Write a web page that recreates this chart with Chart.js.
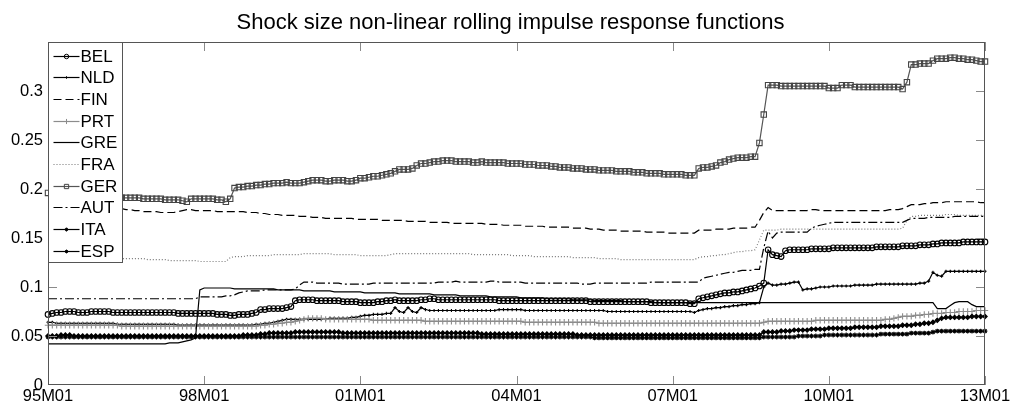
<!DOCTYPE html>
<html>
<head>
<meta charset="utf-8">
<title>Shock size non-linear rolling impulse response functions</title>
<script src="https://cdn.jsdelivr.net/npm/chart.js@4.4.1/dist/chart.umd.min.js"></script>
<style>
    html, body { margin: 0; padding: 0; background: #fff; }
    #myChart { display: block; }
</style>
</head>
<body>
<canvas id="myChart" width="1016" height="412"></canvas>
<script>
// Monthly values, in thousandths (0.193 -> 193).
// One row per year, 95M01 ... 12M12, last row is 13M01.
const bel = [
    72, 73, 74, 74, 75, 75, 75, 74, 74, 74, 75, 75,
    75, 75, 75, 74, 74, 74, 74, 74, 74, 74, 74, 74,
    74, 74, 74, 74, 74, 74, 73, 73, 73, 73, 73, 73,
    73, 73, 73, 72, 72, 72, 71, 71, 72, 72, 72, 73,
    74, 77, 77, 78, 78, 78, 78, 79, 80, 86, 87, 87,
    87, 87, 86, 86, 86, 86, 86, 86, 85, 85, 85, 85,
    84, 84, 84, 84, 85, 85, 86, 86, 87, 86, 86, 86,
    86, 86, 87, 87, 88, 88, 87, 87, 87, 87, 87, 87,
    87, 87, 87, 87, 87, 87, 87, 87, 86, 86, 86, 86,
    86, 86, 86, 86, 86, 86, 86, 86, 86, 86, 86, 86,
    86, 86, 86, 86, 86, 85, 85, 85, 85, 85, 85, 85,
    85, 85, 85, 85, 85, 85, 85, 84, 84, 84, 84, 84,
    84, 84, 84, 84, 83, 83, 88, 89, 90, 91, 92, 93,
    94, 94, 95, 95, 96, 97, 98, 99, 101, 104, 138, 133,
    132, 131, 137, 138, 138, 138, 138, 138, 139, 139, 139, 139,
    139, 140, 140, 140, 140, 140, 140, 140, 140, 140, 140, 141,
    141, 141, 141, 141, 141, 142, 142, 142, 142, 143, 143, 143,
    144, 144, 145, 145, 145, 145, 145, 146, 146, 146, 146, 146,
    146,
];
const nld = [
    64, 64, 63, 63, 63, 63, 63, 63, 63, 63, 63, 63,
    63, 63, 63, 63, 62, 62, 62, 62, 62, 62, 62, 62,
    62, 62, 62, 62, 62, 62, 61, 61, 61, 61, 61, 61,
    61, 61, 61, 61, 61, 61, 61, 61, 61, 61, 61, 61,
    62, 62, 63, 63, 64, 65, 66, 67, 67, 67, 67, 67,
    67, 67, 67, 67, 67, 68, 68, 68, 68, 68, 69, 69,
    70, 71, 71, 72, 72, 72, 73, 73, 79, 75, 74, 79,
    75, 74, 79, 77, 76, 76, 76, 76, 76, 76, 76, 76,
    76, 76, 76, 76, 76, 76, 76, 76, 77, 77, 77, 77,
    77, 77, 76, 76, 76, 76, 76, 76, 76, 76, 76, 76,
    76, 76, 76, 76, 76, 76, 76, 76, 76, 75, 75, 75,
    75, 75, 75, 75, 75, 75, 75, 75, 75, 75, 75, 75,
    75, 75, 75, 75, 75, 74, 76, 77, 78, 78, 79, 79,
    80, 80, 81, 81, 82, 82, 83, 83, 84, 100, 104, 102,
    102, 103, 103, 104, 105, 105, 97, 98, 98, 99, 100, 100,
    100, 101, 101, 101, 101, 101, 102, 102, 102, 102, 102, 103,
    103, 103, 103, 103, 103, 103, 103, 103, 103, 104, 104, 106,
    115, 112, 111, 116, 116, 116, 116, 116, 116, 116, 116, 116,
    116,
];
const fin = [
    182, 182, 182, 181, 181, 181, 181, 181, 181, 181, 181, 180,
    180, 180, 180, 180, 180, 180, 179, 179, 178, 178, 177, 177,
    177, 177, 176, 176, 176, 176, 177, 178, 179, 179, 178, 178,
    178, 178, 178, 177, 177, 177, 177, 177, 177, 177, 176, 176,
    176, 175, 175, 174, 174, 174, 173, 173, 173, 173, 172, 172,
    172, 171, 171, 171, 170, 170, 170, 170, 170, 170, 170, 169,
    169, 169, 169, 169, 169, 168, 168, 168, 168, 168, 168, 167,
    167, 167, 167, 167, 166, 166, 166, 166, 166, 165, 165, 165,
    165, 165, 165, 165, 165, 164, 164, 164, 164, 163, 163, 163,
    163, 163, 162, 162, 162, 162, 162, 161, 161, 161, 161, 161,
    161, 160, 160, 160, 160, 159, 159, 159, 158, 158, 158, 158,
    157, 157, 157, 157, 157, 157, 156, 156, 156, 156, 156, 155,
    155, 155, 155, 155, 155, 155, 158, 158, 158, 158, 159, 159,
    159, 159, 160, 160, 160, 160, 161, 161, 168, 176, 181, 178,
    178, 178, 178, 178, 178, 178, 178, 178, 179, 179, 178, 178,
    178, 178, 178, 178, 178, 178, 178, 178, 178, 178, 178, 178,
    178, 178, 179, 179, 179, 180, 182, 184, 184, 184, 185, 185,
    186, 186, 186, 187, 187, 187, 187, 187, 187, 187, 187, 186,
    186,
];
const prt = [
    61, 61, 61, 61, 61, 61, 61, 61, 61, 61, 61, 61,
    61, 61, 61, 61, 61, 60, 60, 60, 60, 60, 60, 60,
    60, 60, 60, 60, 60, 60, 60, 60, 60, 60, 60, 60,
    60, 60, 60, 60, 60, 60, 60, 60, 60, 60, 60, 60,
    60, 61, 61, 62, 62, 63, 63, 64, 64, 65, 66, 67,
    68, 68, 68, 68, 67, 67, 67, 67, 67, 67, 67, 67,
    67, 67, 67, 66, 66, 66, 66, 66, 66, 66, 66, 66,
    66, 66, 66, 65, 65, 65, 65, 65, 65, 65, 65, 65,
    65, 65, 65, 65, 65, 65, 65, 65, 65, 65, 65, 65,
    65, 65, 64, 64, 64, 64, 64, 64, 64, 64, 64, 64,
    64, 64, 64, 64, 64, 64, 64, 63, 63, 63, 63, 63,
    63, 63, 63, 63, 63, 63, 63, 63, 63, 63, 63, 63,
    63, 63, 63, 63, 63, 63, 63, 63, 63, 63, 63, 63,
    63, 63, 63, 63, 63, 63, 63, 63, 63, 64, 65, 65,
    65, 65, 65, 65, 65, 65, 65, 65, 65, 66, 66, 66,
    66, 66, 66, 66, 66, 66, 66, 66, 66, 66, 66, 66,
    66, 67, 67, 68, 69, 70, 70, 70, 71, 71, 72, 72,
    73, 73, 73, 74, 74, 74, 75, 75, 75, 75, 76, 76,
    76,
];
const gre = [
    42, 42, 42, 42, 42, 42, 42, 42, 42, 42, 42, 42,
    42, 42, 42, 42, 42, 42, 42, 42, 42, 42, 42, 42,
    42, 42, 42, 42, 43, 43, 43, 44, 45, 46, 48, 97,
    99, 99, 99, 99, 99, 99, 99, 98, 98, 98, 98, 98,
    98, 98, 98, 98, 98, 97, 97, 97, 97, 97, 97, 96,
    96, 96, 96, 96, 96, 96, 95, 95, 95, 95, 95, 95,
    95, 94, 94, 94, 94, 94, 94, 94, 94, 93, 93, 93,
    93, 93, 93, 93, 93, 92, 92, 92, 92, 92, 92, 91,
    91, 91, 91, 91, 91, 91, 90, 90, 90, 90, 90, 90,
    90, 89, 89, 89, 89, 89, 89, 88, 88, 88, 88, 88,
    88, 87, 87, 87, 87, 87, 86, 86, 86, 86, 86, 86,
    86, 85, 85, 85, 85, 85, 85, 85, 84, 84, 84, 84,
    84, 84, 84, 84, 84, 84, 84, 84, 84, 84, 84, 84,
    84, 84, 84, 84, 84, 84, 84, 84, 84, 84, 84, 84,
    84, 84, 84, 84, 84, 84, 84, 84, 84, 84, 84, 84,
    84, 84, 84, 84, 84, 84, 84, 84, 84, 84, 84, 84,
    84, 84, 84, 84, 84, 84, 84, 84, 84, 84, 84, 84,
    84, 78, 78, 78, 81, 84, 85, 85, 85, 82, 80, 80,
    80,
];
const fra = [
    130, 130, 130, 130, 130, 130, 130, 130, 130, 130, 130, 130,
    130, 130, 130, 130, 130, 129, 129, 129, 129, 129, 129, 128,
    128, 128, 128, 128, 127, 127, 127, 127, 127, 127, 127, 126,
    126, 126, 126, 126, 126, 126, 130, 131, 131, 131, 132, 132,
    132, 132, 132, 132, 133, 133, 133, 133, 133, 133, 133, 134,
    134, 134, 134, 134, 134, 134, 133, 133, 133, 133, 133, 133,
    132, 132, 132, 132, 132, 132, 132, 133, 134, 134, 134, 134,
    134, 134, 134, 134, 134, 134, 134, 134, 134, 134, 134, 134,
    134, 134, 133, 133, 133, 133, 133, 133, 133, 133, 133, 132,
    132, 132, 132, 132, 131, 131, 131, 131, 131, 131, 131, 131,
    131, 130, 130, 130, 130, 130, 130, 129, 129, 129, 129, 129,
    128, 128, 128, 128, 128, 128, 128, 128, 128, 128, 128, 128,
    128, 128, 128, 128, 128, 128, 130, 131, 131, 132, 132, 133,
    133, 134, 135, 136, 136, 137, 137, 138, 148, 158, 158, 158,
    158, 159, 159, 159, 159, 159, 159, 159, 159, 159, 159, 159,
    159, 159, 159, 159, 159, 159, 159, 159, 159, 159, 159, 159,
    159, 159, 159, 159, 159, 160, 168, 172, 172, 173, 173, 173,
    173, 173, 173, 174, 174, 174, 173, 173, 173, 173, 173, 173,
    173,
];
const ger = [
    196, 196, 195, 195, 194, 194, 194, 194, 193, 193, 193, 193,
    192, 192, 192, 192, 192, 191, 191, 191, 191, 191, 190, 190,
    190, 190, 190, 189, 189, 189, 189, 188, 187, 190, 190, 190,
    190, 190, 190, 189, 189, 187, 190, 201, 202, 202, 203, 203,
    204, 204, 205, 205, 206, 206, 206, 207, 206, 206, 206, 207,
    208, 209, 209, 209, 208, 208, 209, 209, 209, 208, 208, 209,
    211, 211, 212, 213, 213, 214, 215, 216, 218, 220, 220, 220,
    221, 224, 226, 226, 227, 228, 228, 229, 229, 229, 228, 228,
    228, 228, 227, 227, 228, 227, 227, 227, 227, 227, 226, 226,
    226, 226, 225, 225, 225, 224, 224, 224, 223, 223, 222, 222,
    222, 221, 221, 221, 220, 220, 220, 219, 219, 219, 219, 218,
    218, 218, 218, 217, 217, 217, 216, 216, 216, 216, 215, 215,
    215, 215, 215, 214, 214, 214, 221, 222, 222, 223, 224, 227,
    228, 230, 231, 232, 232, 232, 233, 233, 247, 276, 306, 306,
    306, 305, 305, 305, 305, 305, 305, 305, 305, 305, 305, 305,
    303, 303, 303, 306, 306, 306, 304, 304, 304, 304, 304, 304,
    304, 304, 304, 304, 304, 302, 309, 327, 327, 328, 328, 328,
    331, 333, 333, 333, 334, 334, 333, 333, 332, 332, 331, 330,
    330,
];
const aut = [
    88, 88, 88, 88, 88, 88, 88, 88, 88, 88, 88, 88,
    88, 88, 88, 88, 88, 88, 88, 88, 88, 88, 88, 88,
    88, 88, 88, 88, 88, 88, 88, 88, 88, 88, 88, 90,
    90, 90, 90, 90, 90, 91, 91, 92, 94, 95, 96, 96,
    96, 96, 97, 97, 97, 97, 97, 97, 97, 98, 102, 105,
    105, 105, 104, 104, 104, 104, 104, 104, 103, 103, 103, 103,
    103, 103, 103, 104, 104, 104, 104, 104, 104, 104, 104, 104,
    104, 104, 104, 104, 104, 104, 105, 105, 105, 105, 106, 105,
    105, 105, 105, 105, 105, 105, 106, 106, 105, 105, 105, 105,
    105, 105, 104, 104, 104, 104, 104, 104, 104, 104, 104, 104,
    104, 104, 104, 103, 103, 103, 104, 104, 104, 104, 104, 104,
    104, 104, 104, 104, 104, 104, 104, 105, 105, 105, 105, 105,
    105, 105, 105, 105, 105, 105, 105, 109, 110, 111, 112, 113,
    114, 115, 115, 116, 117, 117, 117, 118, 118, 140, 157, 150,
    155, 156, 156, 156, 156, 156, 156, 156, 160, 162, 163, 164,
    165, 166, 166, 166, 166, 166, 166, 166, 166, 166, 166, 166,
    166, 166, 166, 166, 166, 166, 168, 170, 170, 170, 170, 171,
    171, 171, 171, 171, 171, 172, 172, 172, 172, 172, 172, 172,
    172,
];
const ita = [
    50, 50, 50, 51, 51, 51, 50, 50, 50, 50, 50, 50,
    50, 50, 50, 50, 50, 50, 50, 50, 50, 50, 50, 50,
    50, 50, 50, 50, 50, 50, 50, 50, 50, 50, 50, 50,
    50, 50, 50, 50, 50, 50, 50, 50, 50, 51, 51, 51,
    51, 52, 52, 53, 53, 53, 53, 53, 53, 54, 54, 54,
    54, 54, 54, 54, 54, 54, 54, 54, 53, 53, 53, 53,
    53, 53, 53, 53, 53, 53, 53, 53, 53, 53, 53, 53,
    53, 53, 53, 53, 53, 53, 53, 53, 53, 53, 53, 53,
    53, 53, 53, 53, 52, 52, 52, 52, 52, 52, 52, 52,
    52, 52, 52, 52, 52, 52, 52, 52, 52, 52, 52, 52,
    52, 52, 51, 51, 51, 51, 51, 51, 51, 51, 51, 51,
    51, 51, 51, 51, 51, 51, 51, 51, 51, 51, 51, 51,
    51, 51, 51, 51, 51, 51, 51, 51, 51, 51, 51, 51,
    51, 51, 51, 51, 51, 51, 51, 51, 51, 54, 54, 54,
    54, 55, 55, 55, 56, 56, 56, 56, 57, 57, 57, 57,
    58, 58, 58, 58, 58, 58, 59, 59, 59, 59, 59, 59,
    60, 60, 60, 60, 60, 61, 61, 61, 62, 62, 63, 63,
    64, 66, 68, 69, 69, 69, 69, 69, 69, 70, 70, 70,
    70,
];
const esp = [
    49, 49, 49, 49, 49, 49, 49, 49, 49, 49, 49, 49,
    49, 49, 49, 49, 49, 49, 49, 49, 49, 49, 49, 49,
    49, 49, 49, 49, 49, 49, 49, 49, 49, 49, 49, 49,
    49, 49, 49, 49, 49, 49, 49, 49, 49, 49, 49, 49,
    49, 49, 49, 49, 49, 49, 49, 49, 49, 49, 49, 49,
    49, 49, 49, 49, 49, 49, 49, 49, 49, 49, 49, 49,
    49, 49, 49, 49, 49, 49, 49, 49, 49, 49, 49, 49,
    49, 49, 49, 49, 49, 49, 49, 49, 49, 49, 49, 49,
    49, 49, 49, 49, 49, 49, 49, 49, 49, 49, 49, 49,
    49, 49, 49, 49, 49, 49, 49, 49, 49, 49, 49, 49,
    49, 49, 49, 49, 49, 49, 48, 48, 48, 48, 48, 48,
    48, 48, 48, 48, 48, 48, 48, 48, 48, 48, 48, 48,
    48, 48, 48, 48, 48, 48, 48, 48, 48, 48, 48, 48,
    48, 48, 48, 48, 48, 48, 48, 48, 48, 49, 49, 49,
    49, 49, 49, 49, 49, 50, 50, 50, 50, 50, 50, 51,
    51, 51, 51, 51, 51, 51, 51, 51, 51, 51, 51, 51,
    52, 52, 52, 52, 52, 52, 52, 53, 53, 53, 53, 53,
    54, 55, 55, 55, 55, 55, 55, 55, 55, 55, 55, 55,
    55,
];

const seriesNames = ["BEL", "NLD", "FIN", "PRT", "GRE", "FRA", "GER", "AUT", "ITA", "ESP"];
const seriesValues = [bel, nld, fin, prt, gre, fra, ger, aut, ita, esp];

const xTickLabels = ["95M01", "98M01", "01M01", "04M01", "07M01", "10M01", "13M01"];
const yTickValues = [0.05, 0.1, 0.15, 0.2, 0.25, 0.3];
const titleText = "Shock size non-linear rolling impulse response functions";

// month categories 95M01 .. 13M01
const monthLabels = [];
for (let y = 1995; y <= 2013; y++) {
    for (let m = 1; m <= 12; m++) {
        if (y === 2013 && m > 1) break;
        monthLabels.push(String(y % 100).padStart(2, "0") + "M" + String(m).padStart(2, "0"));
    }
}

// matlab-ish line specs
const looks = {
    BEL: { line: "#000", dash: [], marker: "circle", r: 2.8, mColor: "#000", mFill: "rgba(0,0,0,0)" },
    NLD: { line: "#000", dash: [], marker: "cross", r: 1.6, mColor: "#000", mFill: "#000" },
    FIN: { line: "#000", dash: [8, 4], marker: null },
    PRT: { line: "#8c8c8c", dash: [], marker: "cross", r: 3.2, mColor: "#8c8c8c", mFill: "#8c8c8c" },
    GRE: { line: "#000", dash: [], marker: null },
    FRA: { line: "#777", dash: [1, 2], marker: null },
    GER: { line: "#555", dash: [], marker: "rect", r: 3.8, mColor: "#444", mFill: "rgba(0,0,0,0)" },
    AUT: { line: "#000", dash: [9, 3, 2, 3], marker: null },
    ITA: { line: "#000", dash: [], marker: "rectRot", r: 2.2, mColor: "#000", mFill: "#000" },
    ESP: { line: "#000", dash: [], marker: "star", r: 2.4, mColor: "#000", mFill: "#000" },
};

const fontFamily = '"Liberation Sans", Arial, Helvetica, sans-serif';
Chart.defaults.font.family = fontFamily;
Chart.defaults.color = "#000";

const datasets = seriesNames.map((name, i) => {
    const s = looks[name];
    return {
        label: name,
        data: seriesValues[i].map((v) => v / 1000),
        borderColor: s.line,
        borderWidth: 1.2,
        borderDash: s.dash,
        pointStyle: s.marker || "circle",
        pointRadius: s.marker ? s.r : 0,
        pointBorderColor: s.mColor || s.line,
        pointBackgroundColor: s.mFill || s.line,
        pointBorderWidth: 1.1,
        tension: 0,
        clip: false,
        order: seriesNames.length - i, // later series on top, like plot()
    };
});

// frame, inward ticks, legend box and title
const matlabAxes = {
    id: "matlabAxes",
    afterDatasetsDraw(chart) {
        const { ctx, chartArea: area, scales } = chart;
        const tickLen = 9;
        ctx.save();

        ctx.strokeStyle = "#8a8a8a";
        ctx.lineWidth = 1;
        ctx.setLineDash([]);
        ctx.beginPath();
        xTickLabels.forEach((lbl) => {
            const px = Math.round(scales.x.getPixelForValue(monthLabels.indexOf(lbl))) + 0.5;
            ctx.moveTo(px, area.bottom);
            ctx.lineTo(px, area.bottom - tickLen);
            ctx.moveTo(px, area.top);
            ctx.lineTo(px, area.top + tickLen);
        });
        yTickValues.forEach((v) => {
            const py = Math.round(scales.y.getPixelForValue(v)) + 0.5;
            ctx.moveTo(area.left, py);
            ctx.lineTo(area.left + tickLen, py);
            ctx.moveTo(area.right, py);
            ctx.lineTo(area.right - tickLen, py);
        });
        ctx.stroke();

        // legend (north west, inside the axes)
        const lx = Math.round(area.left) + 0.5;
        const ly = Math.round(area.top) + 0.5;
        const lw = 74;
        const rowH = 21.7;
        const lh = 220;
        ctx.fillStyle = "#fff";
        ctx.fillRect(lx, ly, lw, lh);
        ctx.strokeStyle = "#555";
        ctx.strokeRect(lx, ly, lw, lh);
        ctx.font = "17px " + fontFamily;
        ctx.textBaseline = "middle";
        ctx.textAlign = "left";
        seriesNames.forEach((name, i) => {
            const s = looks[name];
            const cy = Math.round(ly + 13 + rowH * i) + 0.5;
            ctx.strokeStyle = s.line;
            ctx.lineWidth = 1.2;
            ctx.setLineDash(s.dash);
            ctx.beginPath();
            ctx.moveTo(lx + 5, cy);
            ctx.lineTo(lx + 31, cy);
            ctx.stroke();
            ctx.setLineDash([]);
            if (s.marker && Chart.helpers && Chart.helpers.drawPoint) {
                ctx.strokeStyle = s.mColor;
                ctx.fillStyle = s.mFill;
                ctx.lineWidth = 1;
                Chart.helpers.drawPoint(ctx, { pointStyle: s.marker, radius: s.r * 0.8, rotation: 0, borderWidth: 1 }, lx + 18, cy);
            }
            ctx.fillStyle = "#000";
            ctx.fillText(name, lx + 32, cy + 1);
        });

        // axes box
        ctx.strokeStyle = "#555";
        ctx.lineWidth = 1;
        ctx.strokeRect(Math.round(area.left) + 0.5, Math.round(area.top) + 0.5,
            Math.round(area.width) - 1, Math.round(area.height) - 1);

        // title
        ctx.fillStyle = "#000";
        ctx.font = "22px " + fontFamily;
        ctx.textAlign = "center";
        ctx.textBaseline = "alphabetic";
        ctx.fillText(titleText, (area.left + area.right) / 2 - 6, 28.5);
        ctx.restore();
    },
};

const config = {
    type: "line",
    data: { labels: monthLabels, datasets: datasets },
    options: {
        responsive: false,
        animation: false,
        devicePixelRatio: 1,
        events: [],
        layout: { padding: { left: 0, top: 42, right: 31, bottom: 0 } },
        plugins: {
            legend: { display: false },
            title: { display: false },
            tooltip: { enabled: false },
        },
        scales: {
            x: {
                type: "category",
                offset: false,
                grid: { display: false, drawTicks: false },
                border: { display: false },
                ticks: {
                    autoSkip: false,
                    maxRotation: 0,
                    minRotation: 0,
                    padding: 2,
                    font: { size: 16.5 },
                    color: "#000",
                    callback(value) {
                        const lbl = this.getLabelForValue(value);
                        return xTickLabels.includes(lbl) ? lbl : "";
                    },
                },
                afterFit(scale) {
                    scale.height = 27;
                },
            },
            y: {
                min: 0,
                max: 0.35,
                grid: { display: false, drawTicks: false },
                border: { display: false },
                ticks: {
                    stepSize: 0.05,
                    padding: 5,
                    font: { size: 16.5 },
                    color: "#000",
                    callback: (v) => (v > 0.34 ? "" : String(Number(v.toFixed(2)))),
                },
                afterFit(scale) {
                    scale.width = 48;
                },
            },
        },
    },
    plugins: [matlabAxes],
};

document.addEventListener("DOMContentLoaded", function () {
    const ctx = document.getElementById("myChart").getContext("2d");
    new Chart(ctx, config);
});
</script>
</body>
</html>
